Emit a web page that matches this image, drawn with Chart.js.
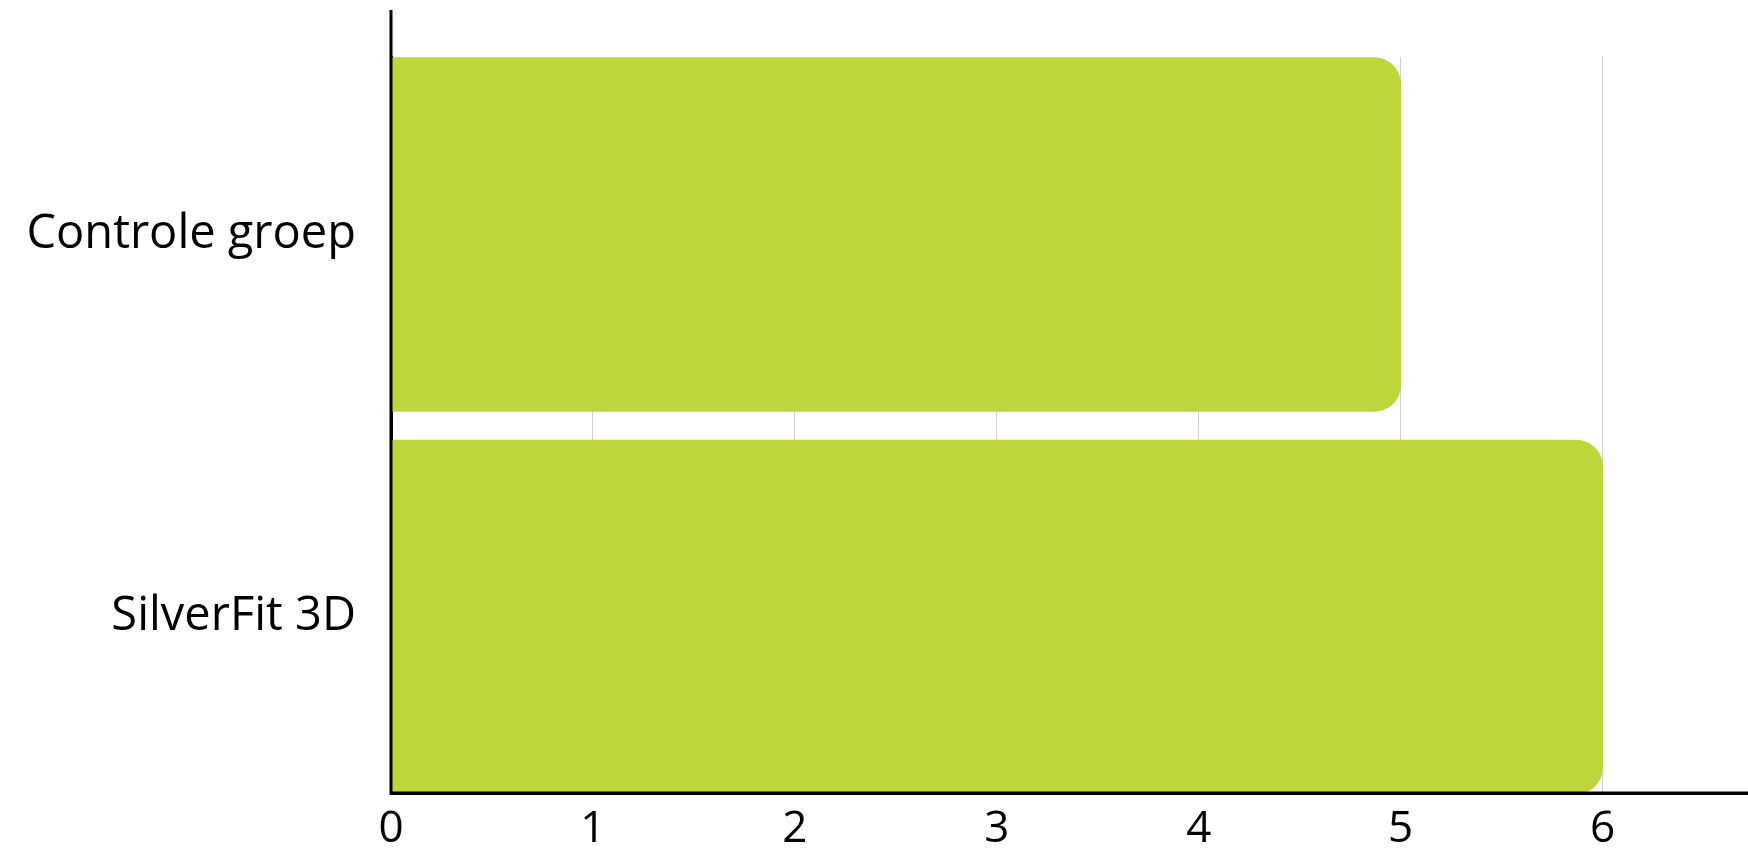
<!DOCTYPE html>
<html lang="nl">
<head>
  <meta charset="UTF-8">
  <title>Controle groep vs SilverFit 3D</title>
  <script src="https://cdn.jsdelivr.net/npm/chart.js"></script>
  <style>
    html, body { margin: 0; padding: 0; background: #fff; }
    #wrap { width: 1748px; height: 860px; }
  </style>
</head>
<body>
  <div id="wrap"><canvas id="chart"></canvas></div>
  <script>
    const categories = ['Controle groep', 'SilverFit 3D'];
    const values = [5, 6];
    const xTicks = [0, 1, 2, 3, 4, 5, 6];

    const barColor = '#bfd63a';

    // axis lines sit on top of the bars, and the y-axis runs up past the plot area
    const axisLines = {
      id: 'axisLines',
      afterDatasetsDraw(chart) {
        const { ctx, chartArea } = chart;
        ctx.save();
        ctx.strokeStyle = '#000';
        ctx.lineWidth = 3;
        ctx.beginPath();
        ctx.moveTo(chartArea.left, 10);
        ctx.lineTo(chartArea.left, chartArea.bottom);
        ctx.lineTo(chartArea.right, chartArea.bottom);
        ctx.stroke();
        ctx.restore();
      }
    };

    new Chart(document.getElementById('chart'), {
      type: 'bar',
      data: {
        datasets: [{
          data: values.map((v, i) => ({ x: v, y: i })),
          backgroundColor: barColor,
          borderWidth: 0,
          borderRadius: 27,
          barThickness: 354
        }]
      },
      options: {
        indexAxis: 'y',
        responsive: true,
        maintainAspectRatio: false,
        animation: false,
        layout: { padding: { top: 57, right: 0, left: 0, bottom: 0 } },
        plugins: { legend: { display: false }, tooltip: { enabled: false } },
        scales: {
          x: {
            type: 'linear',
            min: 0,
            max: 6.72,
            afterBuildTicks: s => { s.ticks = xTicks.map(v => ({ value: v })); },
            ticks: {
              color: '#000',
              font: { family: 'Open Sans', size: 44 },
              padding: 10,
              maxRotation: 0
            },
            grid: { color: '#d0d0d0', lineWidth: 1, drawTicks: false },
            border: { color: '#000', width: 3 },
            afterFit: s => { s.height = 67; s.paddingLeft = 0; s.paddingRight = 0; }
          },
          y: {
            type: 'linear',
            offset: false,
            reverse: true,
            min: -0.464,
            max: 1.46,
            afterBuildTicks: s => { s.ticks = categories.map((c, i) => ({ value: i })); },
            ticks: {
              color: '#000',
              font: { family: 'Open Sans', size: 47 },
              padding: 35,
              callback: v => categories[v] ?? ''
            },
            grid: { display: false, drawTicks: false },
            border: { color: '#000', width: 3 },
            afterFit: s => { s.width = 391; s.paddingTop = 0; s.paddingBottom = 0; }
          }
        }
      },
      plugins: [axisLines]
    });
  </script>
</body>
</html>
